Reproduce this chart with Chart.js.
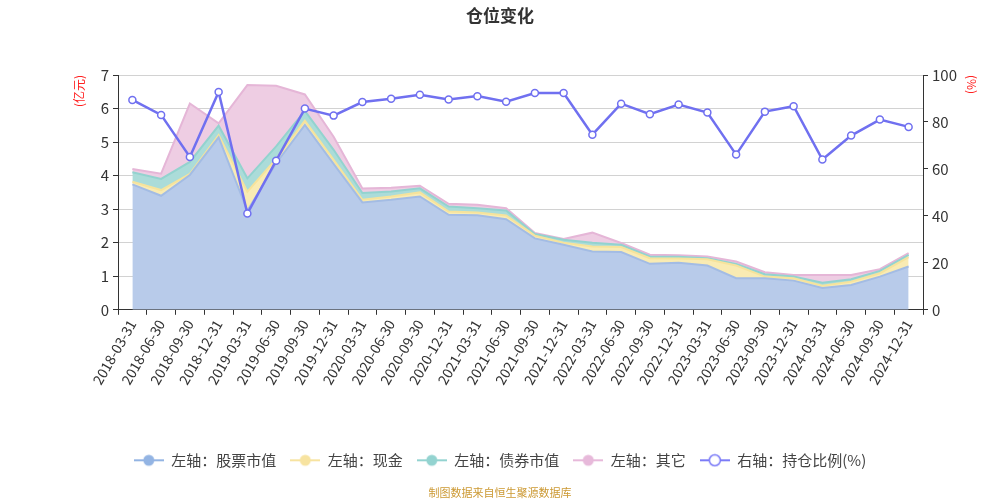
<!DOCTYPE html>
<html>
<head>
<meta charset="utf-8">
<script src="https://cdn.jsdelivr.net/npm/chart.js@4"></script>
<style>
  html, body { margin: 0; padding: 0; background: #fff; }
  #wrap { width: 1000px; height: 500px; position: relative; }
</style>
</head>
<body>
<div id="wrap"><canvas id="c"></canvas></div>
<script>
const categories = [
  '2018-03-31','2018-06-30','2018-09-30','2018-12-31',
  '2019-03-31','2019-06-30','2019-09-30','2019-12-31',
  '2020-03-31','2020-06-30','2020-09-30','2020-12-31',
  '2021-03-31','2021-06-30','2021-09-30','2021-12-31',
  '2022-03-31','2022-06-30','2022-09-30','2022-12-31',
  '2023-03-31','2023-06-30','2023-09-30','2023-12-31',
  '2024-03-31','2024-06-30','2024-09-30','2024-12-31'
];
// 亿元
const stockValues = [3.74, 3.40, 4.02, 5.14, 2.95, 4.37, 5.51, 4.35, 3.20, 3.28, 3.38, 2.83, 2.82, 2.70,
                     2.13, 1.94, 1.74, 1.72, 1.37, 1.40, 1.32, 0.94, 0.94, 0.87, 0.65, 0.74, 0.99, 1.29];
const cashValues  = [0.08, 0.17, 0.03, 0.07, 0.57, 0.13, 0.13, 0.12, 0.08, 0.10, 0.12, 0.10, 0.08, 0.11,
                     0.08, 0.06, 0.15, 0.15, 0.17, 0.13, 0.19, 0.38, 0.05, 0.07, 0.07, 0.10, 0.10, 0.28];
const bondValues  = [0.28, 0.33, 0.36, 0.28, 0.40, 0.37, 0.29, 0.30, 0.20, 0.15, 0.12, 0.15, 0.13, 0.15,
                     0.05, 0.09, 0.11, 0.07, 0.05, 0.05, 0.03, 0.05, 0.07, 0.05, 0.09, 0.07, 0.07, 0.07];
const otherValues = [0.10, 0.16, 1.74, 0.07, 2.78, 1.81, 0.49, 0.39, 0.14, 0.11, 0.08, 0.08, 0.10, 0.07,
                     0.03, 0.02, 0.30, 0.05, 0.05, 0.05, 0.05, 0.07, 0.06, 0.05, 0.23, 0.13, 0.05, 0.05];
// %
const positionRatio = [89.4, 83.0, 65.1, 92.8, 41.0, 63.5, 85.7, 82.7, 88.5, 89.9, 91.6, 89.6, 91.0, 88.6,
                       92.3, 92.3, 74.6, 87.8, 83.3, 87.4, 84.0, 66.1, 84.4, 86.7, 64.0, 74.2, 81.0, 77.9];

const seriesNames = ['左轴：股票市值', '左轴：现金', '左轴：债券市值', '左轴：其它', '右轴：持仓比例(%)'];

const FONT = '"Noto Sans CJK SC", "Noto Sans", sans-serif';

function makeIcon(color, hollow) {
  const cv = document.createElement('canvas');
  cv.width = 30; cv.height = 14;
  const g = cv.getContext('2d');
  g.strokeStyle = color; g.lineWidth = 2;
  g.beginPath(); g.moveTo(0, 7); g.lineTo(30, 7); g.stroke();
  g.beginPath(); g.arc(15, 7, 5.5, 0, Math.PI * 2);
  if (hollow) { g.fillStyle = '#fff'; g.fill(); g.lineWidth = 1.5; g.stroke(); }
  else { g.fillStyle = color; g.fill(); }
  return cv;
}
const legendIcons = [
  makeIcon('#93b4e3', false),
  makeIcon('#f7e3a0', false),
  makeIcon('#93d3d0', false),
  makeIcon('#e7b9da', false),
  makeIcon('#7b7bf7', true)
];

function areaSet(label, data, fill, stroke, fillMode) {
  return {
    label, data, yAxisID: 'y', fill: fillMode,
    backgroundColor: fill, borderColor: stroke, borderWidth: 2,
    pointRadius: 0, pointHoverRadius: 0, tension: 0, order: 1
  };
}

new Chart(document.getElementById('c'), {
  type: 'line',
  data: {
    labels: categories,
    datasets: [
      areaSet(seriesNames[0], stockValues, '#b8cbea', '#a3bce4', 'origin'),
      areaSet(seriesNames[1], cashValues, '#f9ebb3', '#f6e39c', '-1'),
      areaSet(seriesNames[2], bondValues, '#abdcd9', '#93d3cf', '-1'),
      areaSet(seriesNames[3], otherValues, '#eecde3', '#e5b6d7', '-1'),
      {
        label: seriesNames[4], data: positionRatio, yAxisID: 'y1', fill: false,
        borderColor: '#7070f0', borderWidth: 2.5, tension: 0,
        pointRadius: 3.5, pointBackgroundColor: '#ffffff', pointBorderColor: '#7070f0',
        pointBorderWidth: 1.5, order: 0
      }
    ]
  },
  options: {
    responsive: true,
    maintainAspectRatio: false,
    animation: false,
    layout: { padding: { left: 0, right: 0, top: 0, bottom: 0 } },
    interaction: { mode: 'index', intersect: false },
    plugins: {
      title: {
        display: true, text: '仓位变化', color: '#333',
        font: { family: FONT, size: 17, weight: 'bold', lineHeight: 1.2 },
        padding: { top: 5, bottom: 49.6 }
      },
      subtitle: {
        display: true, position: 'bottom', text: '制图数据来自恒生聚源数据库', color: '#cc9933',
        font: { family: FONT, size: 11, lineHeight: 1.2 },
        padding: { top: 8, bottom: 1 }
      },
      legend: {
        position: 'bottom',
        labels: {
          usePointStyle: true, pointStyleWidth: 30, padding: 14, color: '#444',
          font: { family: FONT, size: 15 },
          sort: (a, b) => a.datasetIndex - b.datasetIndex,
          generateLabels: (chart) => {
            const items = Chart.defaults.plugins.legend.labels.generateLabels(chart);
            items.forEach(it => { it.pointStyle = legendIcons[it.datasetIndex]; });
            return items;
          }
        }
      },
      tooltip: { enabled: true }
    },
    scales: {
      x: {
        type: 'category', offset: true,
        grid: { display: true, drawOnChartArea: false, offset: true, tickLength: 5, tickColor: '#333' },
        border: { display: true, color: '#333', width: 1 },
        ticks: { autoSkip: false, minRotation: 60, maxRotation: 60, color: '#333',
                 font: { family: FONT, size: 14 }, padding: 2 },
        afterFit: (s) => { s.height = 129; }
      },
      y: {
        position: 'left', stacked: true, min: 0, max: 7,
        ticks: { stepSize: 1, color: '#333', font: { family: FONT, size: 15 }, padding: 4 },
        grid: { color: '#d2d2d2', tickLength: 5, tickColor: '#333' },
        border: { display: true, color: '#333', width: 1 },
        title: { display: true, text: '(亿元)', color: '#ff2020', align: 'end',
                 font: { family: FONT, size: 12 }, padding: { top: 72 } },
        afterFit: (s) => { s.width = 118; }
      },
      y1: {
        position: 'right', stacked: false, min: 0, max: 100,
        ticks: { stepSize: 20, color: '#333', font: { family: FONT, size: 15 }, padding: 4 },
        grid: { drawOnChartArea: false, tickLength: 5, tickColor: '#333' },
        border: { display: true, color: '#333', width: 1 },
        title: { display: true, text: '(%)', color: '#ff2020', align: 'end',
                 font: { family: FONT, size: 12 }, padding: { top: 21 } },
        afterFit: (s) => { s.width = 77; }
      }
    }
  }
});
</script>
</body>
</html>
